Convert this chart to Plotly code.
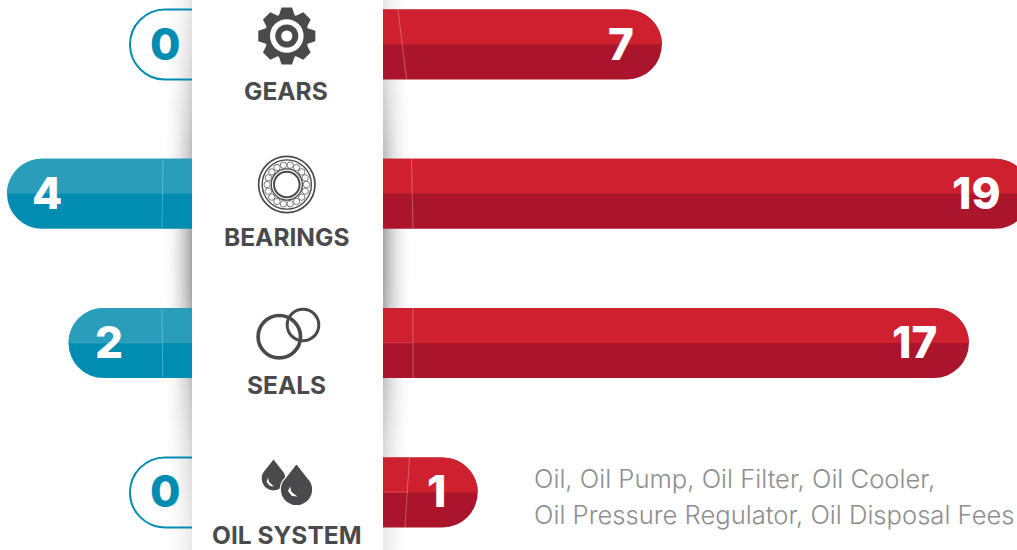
import math
import numpy as np
import plotly.graph_objects as go

categories = ["GEARS", "BEARINGS", "SEALS", "OIL SYSTEM"]
left_values = [0, 4, 2, 0]
right_values = [7, 19, 17, 1]
caption = ["Oil, Oil Pump, Oil Filter, Oil Cooler,", "Oil Pressure Regulator, Oil Disposal Fees"]

W, H = 1017, 550
L0, LS = 130.0, 30.75     # left axis: px of zero, px per unit
R0, RS = 447.0, 30.7     # right axis
ROW0, ROWS = 44.5, 149.3
BAR_PX = 70
RAD = 35
BASE = 4.0
TEAL_T, TEAL_B = "#299DBA", "#008DB1"
RED_T, RED_B = "#CF202F", "#AB152B"
DARK = "#4A4A4C"
FONT = "Inter"

rows = list(range(len(categories)))
bw = BAR_PX / ROWS

def px(x): return x / W
def py(y): return 1 - y / H

fig = go.Figure()

# panel shadow
sx = np.arange(150, 426, 2.0)
sy = np.arange(-5, 560, 10.0)
z = []
for y in sy:
    vert = 0.2 + 0.8 * math.exp(-((y - 260) / 170) ** 2)
    r = []
    for x in sx:
        d = max(192 - x, x - 383, 0)
        t = max(0, 1 - d / 30)
        r.append(vert * (t ** 2.0))
    z.append(r)
fig.add_trace(go.Heatmap(x=[(L0 - v) / LS for v in sx], y=[(v - ROW0) / ROWS for v in sy], z=z,
                         xaxis="x", yaxis="y", zmin=0, zmax=1, showscale=False, hoverinfo="skip",
                         colorscale=[[0, "#FFFFFF"], [1, "#A4A4A4"]]))

# bars
teal_filled = [v > 0 for v in left_values]
fig.add_trace(go.Bar(y=rows, x=[v + BASE for v in left_values], base=[-BASE] * 4, width=bw, orientation="h",
                     xaxis="x", yaxis="y", hoverinfo="skip",
                     marker=dict(color=[TEAL_B if f else "rgba(255,255,255,0)" for f in teal_filled],
                                 line=dict(width=[0 if f else 2 for f in teal_filled], color=TEAL_B),
                                 cornerradius=RAD)))
fig.add_trace(go.Bar(y=rows, x=[v + BASE for v in right_values], base=[-BASE] * 4, width=bw, orientation="h",
                     xaxis="x2", yaxis="y", hoverinfo="skip",
                     marker=dict(color=RED_B, line=dict(width=0), cornerradius=RAD)))

shapes = []
K = 0.5523

def half(row, v, scale, xref, color):
    rx = RAD / scale
    top, mid = row - bw / 2, row
    ry = bw / 2
    x1 = v
    x0 = v - rx
    p = (f"M {-BASE},{top} L {x0},{top} C {x0 + K*rx},{top} {x1},{mid - K*ry} {x1},{mid} "
         f"L {-BASE},{mid} Z")
    shapes.append(dict(type="path", path=p, xref=xref, yref="y", fillcolor=color, line=dict(width=0)))

for i in rows:
    if left_values[i] > 0:
        half(i, left_values[i], LS, "x", TEAL_T)
    half(i, right_values[i], RS, "x2", RED_T)

def seg(x0, y0, x1, y1, op=0.28, w=1):
    shapes.append(dict(type="line", xref="paper", yref="paper", x0=px(x0), y0=py(y0), x1=px(x1), y1=py(y1),
                       line=dict(color=f"rgba(255,255,255,{op})", width=w)))

seg(398, 10, 406.5, 79)
seg(411.5, 159, 413, 229)
seg(413, 308, 413, 378)
seg(409.5, 457, 405, 527)
seg(163, 160, 162, 228)
seg(162, 309, 162.7, 377)
seg(383, 343, 413, 343, 0.12)
seg(383, 492, 408, 492, 0.2)
seg(70, 343, 162, 343, 0.12)

# centre panel
shapes.append(dict(type="rect", xref="paper", yref="paper", x0=px(192), x1=px(383), y0=0, y1=1,
                   fillcolor="white", line=dict(width=0)))

def circle(cx, cy, r, fill=None, stroke=None, w=0):
    shapes.append(dict(type="circle", xref="paper", yref="paper", x0=px(cx - r), x1=px(cx + r),
                       y0=py(cy + r), y1=py(cy - r), fillcolor=fill or "rgba(0,0,0,0)",
                       line=dict(color=stroke or "rgba(0,0,0,0)", width=w)))

def poly(points, fill, stroke=None, w=0):
    d = "M " + " L ".join(f"{px(x):.5f},{py(y):.5f}" for x, y in points) + " Z"
    shapes.append(dict(type="path", path=d, xref="paper", yref="paper", fillcolor=fill,
                       line=dict(color=stroke or "rgba(0,0,0,0)", width=w)))

# gear icon
gx, gy = 286.8, 36
pts = []
N = 8
for k in range(N):
    a = -math.pi / 2 + k * 2 * math.pi / N
    for da, r in [(-0.36, 22.3), (-0.18, 29.0), (0.18, 29.0), (0.36, 22.3)]:
        pts.append((gx + r * math.cos(a + da), gy + r * math.sin(a + da)))
poly(pts, DARK)
circle(gx, gy, 16.8, "white")
circle(gx, gy, 11.5, DARK)
circle(gx, gy, 5.6, "white")

# bearing icon
bx, by = 286.8, 184.5
circle(bx, by, 28.2, None, DARK, 1.7)
circle(bx, by, 24.6, None, DARK, 1.4)
for k in range(18):
    a = k * 2 * math.pi / 18
    circle(bx + 19.6 * math.cos(a), by + 19.6 * math.sin(a), 3.2, "white", "#77777A", 1)
circle(bx, by, 15.6, None, DARK, 1.3)
circle(bx, by, 12.8, None, DARK, 2.0)

# seals icon
circle(279.3, 336.7, 21.2, None, DARK, 3.7)
circle(303, 325, 15.8, None, DARK, 3.0)

# drops icon
def drop(cx, cy, r, tip):
    out = [(cx, tip)]
    steps = 40
    start = -math.pi / 2 + 0.75
    end = 3 * math.pi / 2 - 0.75
    for s in range(steps + 1):
        a = start + (end - start) * s / steps
        out.append((cx + r * math.cos(a), cy + r * math.sin(a)))
    return out

poly(drop(273.5, 478.5, 11.8, 459.5), DARK)
poly(drop(296.5, 489.5, 16.2, 463.5), DARK, "white", 1.2)
poly([(268, 477.5), (269, 482), (274, 486.5), (270, 486), (266.5, 482)], "white")
poly([(290, 486.5), (291.5, 492), (297.5, 496.5), (292, 496), (288, 491)], "white")

anns = []
# category labels
label_y = [91, 237, 385, 535]
for c, y in zip(categories, label_y):
    anns.append(dict(text=c, xref="paper", yref="paper", x=px(286), y=py(y), showarrow=False, xanchor="center",
                     yanchor="middle", font=dict(family=FONT, size=24.5, color=DARK, weight=700)))
# value labels
for i in rows:
    v = left_values[i]
    off = (35 if v == 0 else 40) / LS
    anns.append(dict(text=str(v), x=v - off, y=i, xref="x", yref="y", showarrow=False, xanchor="center",
                     yanchor="middle", yshift=1, font=dict(family=FONT, size=44, weight=800,
                     color=TEAL_B if v == 0 else "white")))
    v = right_values[i]
    off = (54 if v > 9 else 41) / RS
    anns.append(dict(text=str(v), x=v - off, y=i, xref="x2", yref="y", showarrow=False, xanchor="center",
                     yanchor="middle", yshift=1, font=dict(family=FONT, size=44, weight=800, color="white")))
# caption
for t, y in zip(caption, [479, 514]):
    anns.append(dict(text=t, xref="paper", yref="paper", x=px(532), y=py(y), showarrow=False, xanchor="left",
                     yanchor="middle", font=dict(family=FONT, size=25.6, color="#8E8E8E", weight=300)))

fig.update_layout(
    width=W, height=H, margin=dict(l=0, r=0, t=0, b=0), showlegend=False, barmode="overlay",
    paper_bgcolor="white", plot_bgcolor="white", shapes=shapes, annotations=anns,
    xaxis=dict(range=[L0 / LS, (L0 - W) / LS], visible=False, domain=[0, 1], fixedrange=True),
    xaxis2=dict(range=[-R0 / RS, (W - R0) / RS], visible=False, domain=[0, 1], overlaying="x", fixedrange=True),
    yaxis=dict(range=[(H - ROW0) / ROWS, -ROW0 / ROWS], visible=False, fixedrange=True),
)
fig.write_html("out.html", config={"displayModeBar": False},
               post_script="document.body.style.margin='0';document.documentElement.style.overflow='hidden';")
